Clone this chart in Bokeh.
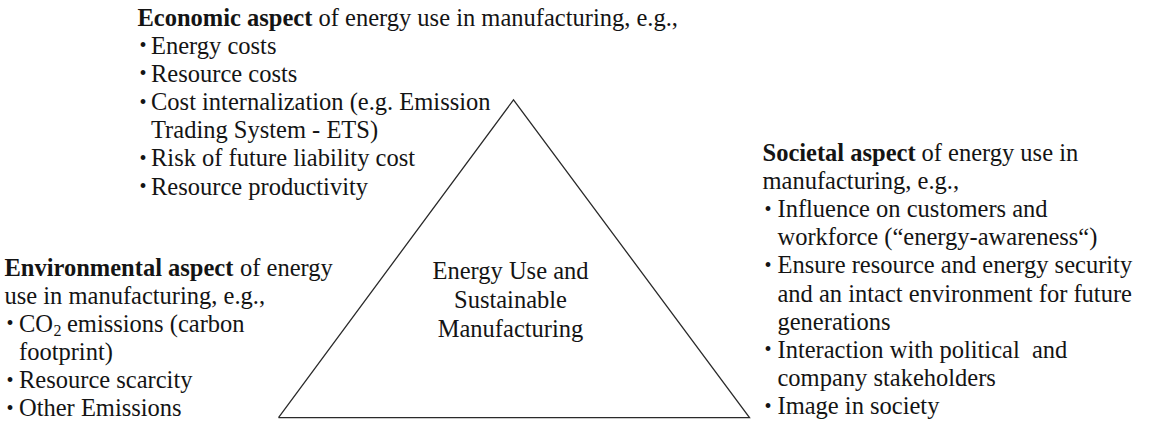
from bokeh.plotting import figure
from bokeh.models import Range1d
from bokeh.embed import file_html
from bokeh.resources import INLINE
from bokeh.core.properties import value

# ---------------- content ----------------
economic_bold = "Economic aspect"
economic_rest = ["of energy use in manufacturing, e.g.,"]
economic_items = [
    ["Energy costs"],
    ["Resource costs"],
    ["Cost internalization (e.g. Emission", "Trading System - ETS)"],
    ["Risk of future liability cost"],
    ["Resource productivity"],
]

environmental_bold = "Environmental aspect"
environmental_rest = ["of energy", "use in manufacturing, e.g.,"]
environmental_items = [
    ["CO2 emissions (carbon", "footprint)"],
    ["Resource scarcity"],
    ["Other Emissions"],
]

societal_bold = "Societal aspect"
societal_rest = ["of energy use in", "manufacturing, e.g.,"]
societal_items = [
    ["Influence on customers and", "workforce (\u201cenergy-awareness\u201c)"],
    ["Ensure resource and energy security", "and an intact environment for future", "generations"],
    ["Interaction with political\u00a0 and", "company stakeholders"],
    ["Image in society"],
]

center_lines = ["Energy Use and", "Sustainable", "Manufacturing"]

# triangle vertices (diagram units = page pixels)
tri_x = [286, 521, 757, 286]
tri_y = [433, 110, 433, 433]

# ---------------- layout / style ----------------
FONT = value("Liberation Serif")
FS = value("24.5px")
FS_BULLET = value("20px")
FS_SUB = value("16px")
COLOR = "#141414"
LH = 28.6

p = figure(width=1137, height=420, x_range=Range1d(8, 1145), y_range=Range1d(436, 9),
           output_backend="svg", toolbar_location=None, min_border=0)
p.axis.visible = False
p.grid.visible = False
p.outline_line_color = None
p.background_fill_color = "white"
p.border_fill_color = "white"

p.line(tri_x, tri_y, line_color="#2a2a2a", line_width=1.3, line_join="miter")

norm = dict(text_font=FONT, text_font_size=FS, text_baseline="middle",
            text_align="left", text_color=COLOR)
bold = dict(norm, text_font_style="bold")


def block(x_head, bold_w, head_bold, head_rest, items, y0, x_bullet, x_text):
    p.text(x=[x_head], y=[y0], text=[head_bold], **bold)
    p.text(x=[x_head + bold_w], y=[y0], text=[head_rest[0]], **norm)
    y = y0
    for extra in head_rest[1:]:
        y += LH
        p.text(x=[x_head], y=[y], text=[extra], **norm)
    bx, by, tx, ty, tt = [], [], [], [], []
    for item in items:
        for j, line in enumerate(item):
            y += LH
            if j == 0:
                bx.append(x_bullet)
                by.append(y)
            if line.startswith("CO2"):
                p.text(x=[x_text], y=[y], text=["CO"], **norm)
                p.text(x=[x_text + 34.5], y=[y + 7], text=["2"],
                       text_font=FONT, text_font_size=FS_SUB, text_baseline="middle",
                       text_align="left", text_color=COLOR)
                p.text(x=[x_text + 48], y=[y], text=[line[4:]], **norm)
                continue
            tx.append(x_text)
            ty.append(y)
            tt.append(line)
    p.text(x=bx, y=by, text=["\u2022"] * len(bx), text_font=FONT, text_font_size=FS_BULLET,
           text_baseline="middle", text_align="left", text_color=COLOR)
    p.text(x=tx, y=ty, text=tt, **norm)


block(145, 181, economic_bold, economic_rest, economic_items, 26, 147, 158.5)
block(12, 235.5, environmental_bold, environmental_rest, environmental_items, 280, 14, 26.5)
block(770, 159, societal_bold, societal_rest, societal_items, 163.5, 772, 785)

p.text(x=[518] * 3, y=[284, 313, 342], text=center_lines, text_font=FONT, text_font_size=FS,
       text_baseline="middle", text_align="center", text_color=COLOR)

open("out.html", "w").write(file_html(p, INLINE))
